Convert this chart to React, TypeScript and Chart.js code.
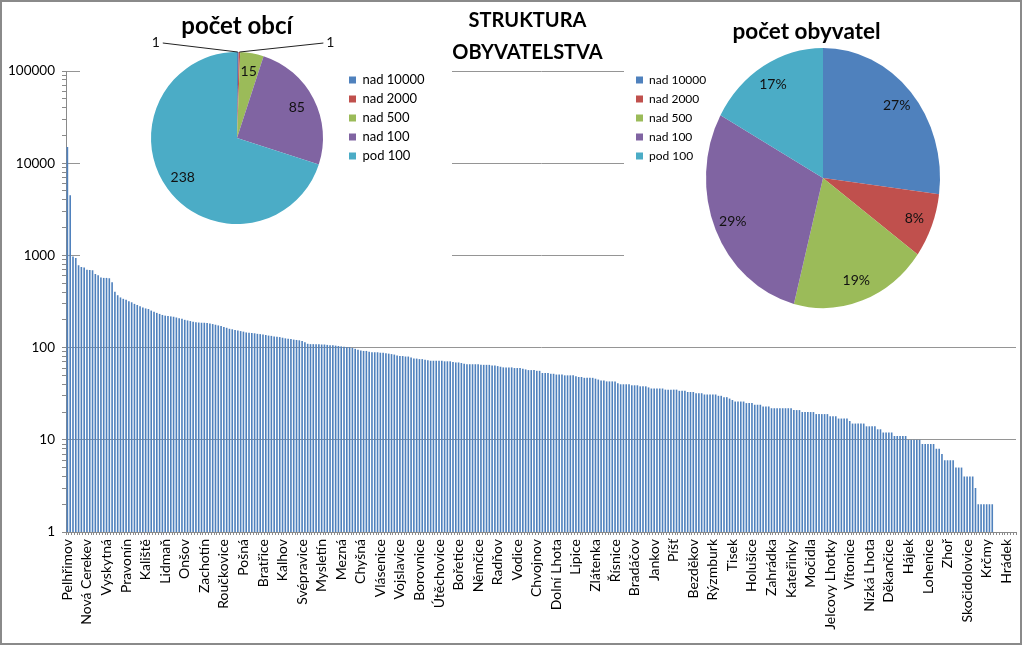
import React, { useEffect, useRef } from 'react';
import { Chart, registerables } from 'chart.js';

Chart.register(...registerables);

const FONT = 'Lato, "Noto Sans", sans-serif';

// every 7th municipality name shown on the category axis
const tickNames = [
  'Pelhřimov', 'Nová Cerekev', 'Vyskytná', 'Pravonín', 'Kaliště', 'Lidmaň', 'Onšov',
  'Zachotín', 'Roučkovice', 'Pošná', 'Bratřice', 'Kalhov', 'Svépravice', 'Mysletín',
  'Mezná', 'Chyšná', 'Vlásenice', 'Vojslavice', 'Borovnice', 'Útěchovice', 'Bořetice',
  'Němčice', 'Radňov', 'Vodice', 'Chvojnov', 'Dolní Lhota', 'Lipice', 'Zlátenka',
  'Řísnice', 'Bradáčov', 'Jankov', 'Píšť', 'Bezděkov', 'Rýzmburk', 'Tisek',
  'Holušice', 'Zahrádka', 'Kateřinky', 'Močidla', 'Jelcovy Lhotky', 'Vítonice', 'Nízká Lhota',
  'Děkančice', 'Hájek', 'Lohenice', 'Zhoř', 'Skočidolovice', 'Krčmy', 'Hrádek',
];

// population of each municipality (sorted)
const pocetObyvatel = [
  15000, 4500, 970, 940, 780, 750, 740, 700, 695, 690, 630, 610, 575, 570, 570, 565, 510,
  404, 370, 350, 338, 330, 318, 310, 298, 290, 280,
  272, 266, 262, 252, 245, 238, 232, 226, 222, 220,
  218, 216, 212, 208, 205, 200, 197, 194, 191, 188,
  187, 186, 186, 185, 183, 180, 177, 174, 171, 167,
  164, 160, 158, 155, 153, 151, 149, 146, 145, 144,
  143, 141, 140, 139, 137, 135, 134, 132, 131, 130,
  128, 126, 125, 124, 122,
  121, 120, 118, 114, 110, 109, 109, 109, 109, 108, 108, 107, 106, 106, 105, 104, 103, 102, 101, 101,
  99, 97, 95, 93, 92, 92, 90, 89, 89, 89, 88, 88, 87, 86, 85, 84,
  82, 81, 81, 80, 80, 78, 76, 76, 75, 75,
  74, 73, 72, 72, 72, 72, 72, 71, 71, 71, 70, 69, 69, 68,
  67, 66, 66, 66, 66, 66, 65, 65, 65, 65, 64, 64, 63,
  62, 61, 61, 61, 61, 60, 60, 60, 59, 58, 57, 57, 57, 56, 56,
  53, 53, 53, 52, 52, 51, 51, 51, 50, 50, 50, 50, 49,
  48, 48, 47, 47, 47, 47, 46, 45, 44, 44, 43, 43, 43, 43,
  41, 40, 40, 40, 40, 39, 39, 39, 38, 38, 38, 37,
  36, 36, 36, 36, 36, 35, 35, 35, 35, 35, 34, 34, 34, 33,
  33, 33, 32, 32, 32, 31, 31, 31, 31, 31, 30, 30,
  29, 29, 28, 27, 26, 26, 26, 26, 25, 25, 25, 24, 24, 24, 23, 23, 23,
  22, 22, 22, 22, 22, 22, 22, 22, 21, 21, 21, 20, 20, 20, 20, 20,
  19, 19, 19, 19, 19, 18, 18, 18, 17, 17, 17, 17, 16, 15, 15, 15, 15, 15,
  14, 14, 14, 14, 13, 13, 12, 12, 12, 12, 11, 11, 11, 11, 11,
  10, 10, 10, 10, 10, 9, 9, 9, 9, 9, 8, 8, 7, 6, 6, 6, 6, 5, 5, 5,
  4, 4, 4, 4, 3, 2, 2, 2, 2, 2, 2, 1, 1, 1, 1, 1, 1, 1, 1,
];

const skupiny = ['nad 10000', 'nad 2000', 'nad 500', 'nad 100', 'pod 100'];
const pocetObci = [1, 1, 15, 85, 238];
const podilObyvatel = [27, 8, 19, 29, 17];
const pieColors = ['#4F81BD', '#C0504D', '#9BBB59', '#8064A2', '#4BACC6'];

const categories = pocetObyvatel.map((_, i) => (i % 7 === 0 ? tickNames[i / 7] ?? '' : ''));

const isPow10 = (v: number) => {
  const l = Math.log10(v);
  return Math.abs(l - Math.round(l)) < 1e-9;
};
const isIntSig = (v: number) => {
  const p = Math.pow(10, Math.floor(Math.log10(v) + 1e-9));
  const s = v / p;
  return Math.abs(s - Math.round(s)) < 1e-9;
};

// draws the pie (optionally stretched/shifted) and its data labels
const pieDecor = {
  id: 'pieDecor',
  beforeDatasetsDraw(chart: any, _a: any, opts: any) {
    const arc = chart.getDatasetMeta(0).data[0];
    if (!arc) return;
    const sy = opts.sy ?? 1;
    const dx = opts.dx ?? 0;
    const ctx = chart.ctx;
    ctx.save();
    ctx.translate(arc.x + dx, arc.y);
    ctx.scale(1, sy);
    ctx.translate(-arc.x, -arc.y);
  },
  afterDatasetsDraw(chart: any, _a: any, opts: any) {
    const ctx = chart.ctx;
    ctx.restore();
    const meta = chart.getDatasetMeta(0);
    const data: number[] = chart.data.datasets[0].data;
    const total = data.reduce((a, b) => a + b, 0);
    const sy = opts.sy ?? 1;
    const dx = opts.dx ?? 0;
    const k = opts.k ?? 0.8;
    ctx.save();
    ctx.font = `14px ${FONT}`;
    ctx.fillStyle = '#111';
    ctx.strokeStyle = '#222';
    ctx.lineWidth = 1;
    ctx.textAlign = 'center';
    ctx.textBaseline = 'middle';
    let side = -1;
    meta.data.forEach((el: any, i: number) => {
      const { x, y, startAngle, endAngle, outerRadius } = el;
      const cx = x + dx;
      const mid = (startAngle + endAngle) / 2;
      const text = String(data[i]) + (opts.suffix || '');
      if (opts.leader && data[i] / total < 0.02) {
        const ax = cx + Math.cos(mid) * outerRadius;
        const ay = y + Math.sin(mid) * outerRadius * sy;
        const lx = ax + (side < 0 ? -opts.leader.dxL : opts.leader.dxR);
        const ly = ay + opts.leader.dy;
        ctx.beginPath();
        ctx.moveTo(ax, ay);
        ctx.lineTo(lx - side * 7, ly + 1);
        ctx.stroke();
        ctx.fillText(text, lx, ly);
        side = -side;
      } else {
        const px = cx + Math.cos(mid) * outerRadius * k;
        const py = y + Math.sin(mid) * outerRadius * k * sy;
        ctx.fillText(text, px, py);
      }
    });
    ctx.restore();
  },
};

export default function App() {
  const barRef = useRef<HTMLCanvasElement>(null);
  const leftRef = useRef<HTMLCanvasElement>(null);
  const rightRef = useRef<HTMLCanvasElement>(null);

  useEffect(() => {
    const charts: Chart[] = [];
    if (barRef.current) {
      charts.push(
        new Chart(barRef.current, {
          type: 'bar',
          data: {
            labels: categories,
            datasets: [
              {
                data: pocetObyvatel,
                backgroundColor: '#4F81BD',
                barPercentage: 0.58,
                categoryPercentage: 1,
              },
            ],
          },
          options: {
            animation: false,
            responsive: true,
            maintainAspectRatio: false,
            layout: { padding: 0 },
            plugins: {
              legend: { display: false },
              tooltip: { enabled: false },
              title: {
                display: true,
                text: ['STRUKTURA', 'OBYVATELSTVA'],
                color: '#000',
                font: { family: FONT, size: 20, weight: 'bold', lineHeight: 1.6 },
                padding: { top: 5, bottom: 2 },
              },
            },
            scales: {
              x: {
                ticks: {
                  autoSkip: false,
                  minRotation: 90,
                  maxRotation: 90,
                  padding: 4,
                  color: '#000',
                  font: { family: FONT, size: 14 },
                },
                grid: { drawOnChartArea: false, tickLength: 3, color: '#8a8a8a' },
                border: { color: '#8a8a8a' },
                afterFit: (s: any) => {
                  s.height = 113;
                },
              },
              y: {
                type: 'logarithmic',
                min: 1,
                max: 100000,
                ticks: {
                  autoSkip: false,
                  padding: 7,
                  color: '#000',
                  font: { family: FONT, size: 13.5 },
                  callback: (v: any) => (isPow10(Number(v)) ? String(Math.round(Number(v))) : ''),
                },
                grid: {
                  color: (c: any) => (c.tick && isPow10(c.tick.value) ? '#959595' : 'rgba(0,0,0,0)'),
                  tickColor: (c: any) => (c.tick && isIntSig(c.tick.value) ? '#8a8a8a' : 'rgba(0,0,0,0)'),
                  tickLength: 4,
                },
                border: { color: '#8a8a8a' },
                afterFit: (s: any) => {
                  s.width = 66;
                },
              },
              // empty spacer on the right so the chart title is centred like the original
              yRight: {
                type: 'linear',
                position: 'right',
                display: true,
                grid: { display: false, drawTicks: false },
                ticks: { display: false },
                border: { display: false },
                afterFit: (s: any) => {
                  s.width = 39;
                },
              },
            },
          } as any,
        })
      );
    }
    if (leftRef.current) {
      charts.push(
        new Chart(leftRef.current, {
          type: 'pie',
          data: {
            labels: skupiny,
            datasets: [{ data: pocetObci, backgroundColor: pieColors, borderWidth: 0, clip: false } as any],
          },
          options: {
            animation: false,
            responsive: true,
            maintainAspectRatio: false,
            layout: { padding: { left: 51, right: 19, top: 0, bottom: 38 } },
            plugins: {
              title: {
                display: true,
                text: 'počet obcí',
                fullSize: false,
                color: '#000',
                font: { family: FONT, size: 24, weight: 'bold', lineHeight: 1.2 },
                padding: { top: 11.6, bottom: 11.6 },
              },
              legend: {
                position: 'right',
                align: 'start',
                fullSize: false,
                maxWidth: 90,
                title: { display: true, text: '', font: { size: 1, lineHeight: 1 }, padding: { top: 14.5, bottom: 0 } },
                labels: { boxWidth: 7, boxHeight: 7, padding: 6, color: '#000', font: { family: FONT, size: 13 } },
              },
              tooltip: { enabled: false },
              pieDecor: { sy: 1, k: 0.78, leader: { dxL: 82, dxR: 91, dy: -10 } },
            },
          } as any,
          plugins: [pieDecor as any],
        })
      );
    }
    if (rightRef.current) {
      charts.push(
        new Chart(rightRef.current, {
          type: 'pie',
          data: {
            labels: skupiny,
            datasets: [{ data: podilObyvatel, backgroundColor: pieColors, borderWidth: 0, clip: false } as any],
          },
          options: {
            animation: false,
            responsive: true,
            maintainAspectRatio: false,
            layout: { padding: { left: 5, right: 5, top: 0, bottom: 35 } },
            plugins: {
              title: {
                display: true,
                text: 'počet obyvatel',
                color: '#000',
                font: { family: FONT, size: 22.5, weight: 'bold', lineHeight: 1.2 },
                padding: { top: 18.5, bottom: 15.5 },
              },
              legend: {
                position: 'left',
                align: 'start',
                fullSize: false,
                maxWidth: 78,
                title: { display: true, text: '', font: { size: 1, lineHeight: 1 }, padding: { top: 5, bottom: 0 } },
                labels: { boxWidth: 7, boxHeight: 7, padding: 7, color: '#000', font: { family: FONT, size: 12 } },
              },
              tooltip: { enabled: false },
              pieDecor: { sy: 130 / 117, dx: -22.5, k: 0.84, suffix: '%' },
            },
          } as any,
          plugins: [pieDecor as any],
        })
      );
    }
    return () => charts.forEach((c) => c.destroy());
  }, []);

  return (
    <div
      style={{
        position: 'absolute',
        left: 0,
        top: 0,
        width: 1023,
        height: 645,
        overflow: 'hidden',
        background: '#fff',
      }}
    >
      <div style={{ position: 'absolute', left: 0, top: 0, width: 1055, height: 645 }}>
        <canvas ref={barRef} />
      </div>
      <div style={{ position: 'absolute', left: 80, top: 0, width: 372, height: 262, background: '#fff' }}>
        <canvas ref={leftRef} />
      </div>
      <div style={{ position: 'absolute', left: 624, top: 0, width: 392, height: 330, background: '#fff' }}>
        <div style={{ position: 'absolute', left: 0, top: 0, width: 365, height: 330 }}>
          <canvas ref={rightRef} />
        </div>
      </div>
      <div
        style={{
          position: 'absolute',
          left: 0,
          top: 0,
          width: 1022,
          height: 645,
          border: '2px solid #8a8a8a',
          boxSizing: 'border-box',
          pointerEvents: 'none',
        }}
      />
    </div>
  );
}
